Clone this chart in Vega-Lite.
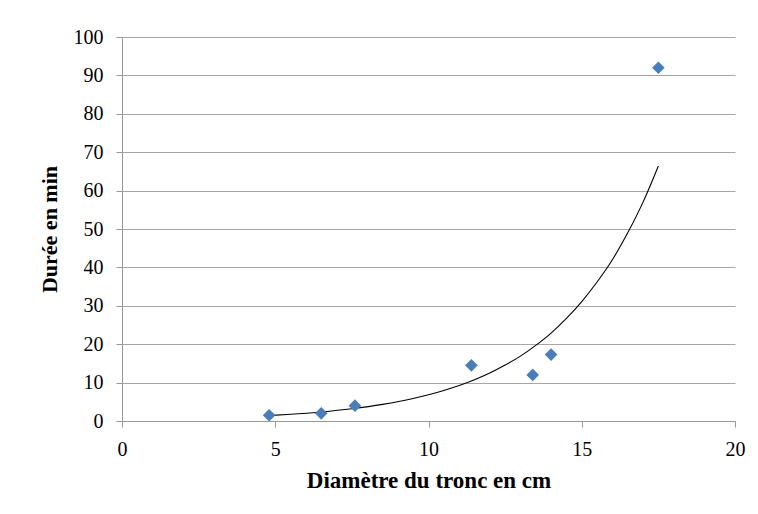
{
  "$schema": "https://vega.github.io/schema/vega-lite/v6.json",
  "width": 613,
  "height": 384,
  "autosize": {"type": "none"},
  "padding": {"left": 122, "top": 37, "right": 23, "bottom": 93},
  "background": "white",
  "config": {
    "view": {"stroke": null},
    "font": "Liberation Serif"
  },
  "datasets": {
    "points": [
      {"d": 4.8, "t": 1.5},
      {"d": 6.5, "t": 2.0},
      {"d": 7.6, "t": 4.0},
      {"d": 11.4, "t": 14.5},
      {"d": 13.4, "t": 12.0},
      {"d": 14.0, "t": 17.3},
      {"d": 17.5, "t": 92.0}
    ],
    "trend": [
      {"d": 4.8, "t": 1.41},
      {"d": 5.5, "t": 1.74},
      {"d": 6.5, "t": 2.36},
      {"d": 7.5, "t": 3.2},
      {"d": 8.5, "t": 4.33},
      {"d": 9.5, "t": 5.86},
      {"d": 10.0, "t": 6.82},
      {"d": 10.5, "t": 7.94},
      {"d": 11.0, "t": 9.23},
      {"d": 11.5, "t": 10.75},
      {"d": 12.0, "t": 12.5},
      {"d": 12.5, "t": 14.56},
      {"d": 13.0, "t": 16.9},
      {"d": 13.5, "t": 19.7},
      {"d": 14.0, "t": 22.9},
      {"d": 14.5, "t": 26.7},
      {"d": 15.0, "t": 31.1},
      {"d": 15.5, "t": 36.2},
      {"d": 16.0, "t": 42.0},
      {"d": 16.5, "t": 49.0},
      {"d": 17.0, "t": 57.0},
      {"d": 17.5, "t": 66.4}
    ]
  },
  "encoding": {
    "x": {
      "field": "d", "type": "quantitative",
      "scale": {"domain": [0, 20], "nice": false},
      "axis": {
        "values": [0, 5, 10, 15, 20],
        "title": "Diamètre du tronc en cm",
        "titleFont": "Liberation Serif", "titleFontSize": 23, "titleFontWeight": "bold", "titleColor": "black",
        "titlePadding": 10,
        "labelFont": "Liberation Serif", "labelFontSize": 20, "labelColor": "black",
        "labelPadding": 12, "labelFlush": false, "labelOverlap": false,
        "domainColor": "#999999", "tickColor": "#999999", "tickSize": 6,
        "grid": false
      }
    },
    "y": {
      "field": "t", "type": "quantitative",
      "scale": {"domain": [0, 100], "nice": false},
      "axis": {
        "values": [0, 10, 20, 30, 40, 50, 60, 70, 80, 90, 100],
        "tickCount": 11,
        "title": "Durée en min",
        "titleFont": "Liberation Serif", "titleFontSize": 22, "titleFontWeight": "bold", "titleColor": "black",
        "titlePadding": 12,
        "labelFont": "Liberation Serif", "labelFontSize": 20, "labelColor": "black",
        "labelPadding": 13, "labelFlush": false, "labelOverlap": false,
        "domainColor": "#999999", "tickColor": "#999999", "tickSize": 6,
        "grid": true, "gridColor": "#a6a6a6", "gridWidth": 1.2
      }
    }
  },
  "layer": [
    {
      "data": {"name": "trend"},
      "mark": {"type": "line", "color": "black", "strokeWidth": 1.1, "interpolate": "monotone"}
    },
    {
      "data": {"name": "points"},
      "mark": {"type": "point", "shape": "diamond", "filled": true, "color": "#4a7ebb", "size": 160, "opacity": 1}
    }
  ]
}
